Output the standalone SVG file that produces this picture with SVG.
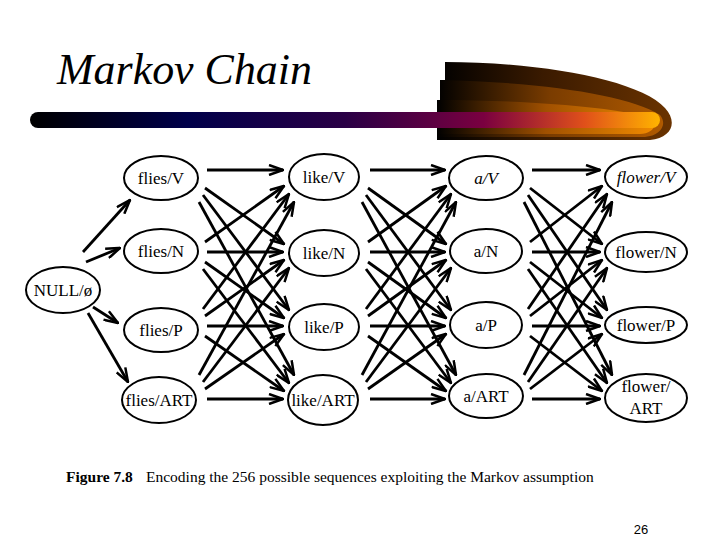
<svg xmlns="http://www.w3.org/2000/svg" width="720" height="540" viewBox="0 0 720 540">
<defs>
<style>
.node ellipse{fill:#fff;stroke:#000;stroke-width:2}
.node text{font-family:"Liberation Serif","Times New Roman",serif;font-size:17px;fill:#000;text-anchor:middle}
.it{font-style:italic}
.serif{font-family:"Liberation Serif","Times New Roman",serif}
.sans{font-family:"Liberation Sans",Arial,sans-serif}
#edges line{stroke:#000;stroke-width:2.8;marker-end:url(#ah)}
</style>
<marker id="ah" viewBox="0 0 16 12" markerWidth="16" markerHeight="12" refX="15" refY="6" orient="auto" markerUnits="userSpaceOnUse">
<path d="M1,1 L15,6 L1,11" fill="none" stroke="#000" stroke-width="2.5"/>
</marker>
<linearGradient id="bar" x1="0" y1="0" x2="1" y2="0">
<stop offset="0" stop-color="#000"/>
<stop offset="0.25" stop-color="#00004a"/>
<stop offset="0.5" stop-color="#2a0045"/>
<stop offset="0.72" stop-color="#7a0040"/>
<stop offset="0.88" stop-color="#e0501a"/>
<stop offset="1" stop-color="#ffb400"/>
</linearGradient>
<linearGradient id="sw1" x1="0" y1="0" x2="1" y2="0">
<stop offset="0" stop-color="#000"/>
<stop offset="0.45" stop-color="#3a1a00"/>
<stop offset="1" stop-color="#6a3300"/>
</linearGradient>
<linearGradient id="sw2" x1="0" y1="0" x2="1" y2="0">
<stop offset="0" stop-color="#000"/>
<stop offset="0.5" stop-color="#7a3c00"/>
<stop offset="1" stop-color="#b05a00"/>
</linearGradient>
<linearGradient id="sw3" x1="0" y1="0" x2="1" y2="0">
<stop offset="0" stop-color="#000"/>
<stop offset="0.5" stop-color="#a05000"/>
<stop offset="1" stop-color="#f08a00"/>
</linearGradient>
</defs>
<rect width="720" height="540" fill="#fff"/>

<g id="title">
<text class="serif it" x="57" y="84" font-size="44" textLength="255" lengthAdjust="spacingAndGlyphs">Markov Chain</text>
<path d="M445,62 C540,62 640,80 665,108 C678,122 672,138 650,140 L437,140 L437,100 L440,100 L440,80 L445,80 Z" fill="url(#sw1)"/>
<path d="M440,80 C540,82 630,95 660,115 C668,125 660,136 645,137 L437,137 L437,100 L440,100 Z" fill="url(#sw2)"/>
<path d="M437,100 C530,100 620,108 650,118 C660,124 652,134 640,134 L437,134 Z" fill="url(#sw3)"/>
<rect x="30" y="112" width="630" height="16" rx="8" fill="url(#bar)"/>
</g>

<g id="edges">
<line x1="83" y1="252" x2="130" y2="200"/>
<line x1="86" y1="262" x2="120" y2="248"/>
<line x1="93" y1="307" x2="118" y2="323"/>
<line x1="88" y1="313" x2="128" y2="382"/>

<line x1="207" y1="170" x2="283" y2="170"/>
<line x1="205" y1="188" x2="284" y2="244"/>
<line x1="203" y1="195" x2="289" y2="310"/>
<line x1="199" y1="202" x2="294" y2="375"/>
<line x1="205" y1="242" x2="284" y2="186"/>
<line x1="207" y1="252" x2="283" y2="252"/>
<line x1="205" y1="262" x2="284" y2="318"/>
<line x1="203" y1="269" x2="289" y2="383"/>
<line x1="203" y1="309" x2="289" y2="194"/>
<line x1="205" y1="316" x2="284" y2="260"/>
<line x1="207" y1="326" x2="283" y2="326"/>
<line x1="205" y1="336" x2="284" y2="391"/>
<line x1="199" y1="375" x2="294" y2="202"/>
<line x1="203" y1="382" x2="289" y2="268"/>
<line x1="205" y1="389" x2="284" y2="334"/>
<line x1="207" y1="399" x2="283" y2="399"/>

<line x1="370" y1="170" x2="445" y2="170"/>
<line x1="368" y1="188" x2="446" y2="244"/>
<line x1="366" y1="195" x2="451" y2="310"/>
<line x1="362" y1="202" x2="456" y2="375"/>
<line x1="368" y1="242" x2="446" y2="186"/>
<line x1="370" y1="252" x2="445" y2="252"/>
<line x1="368" y1="262" x2="446" y2="318"/>
<line x1="366" y1="269" x2="451" y2="383"/>
<line x1="366" y1="309" x2="451" y2="194"/>
<line x1="368" y1="316" x2="446" y2="260"/>
<line x1="370" y1="326" x2="445" y2="326"/>
<line x1="368" y1="336" x2="446" y2="391"/>
<line x1="362" y1="375" x2="456" y2="202"/>
<line x1="366" y1="382" x2="451" y2="268"/>
<line x1="368" y1="389" x2="446" y2="334"/>
<line x1="370" y1="399" x2="445" y2="399"/>

<line x1="532" y1="170" x2="600" y2="170"/>
<line x1="530" y1="188" x2="602" y2="244"/>
<line x1="528" y1="195" x2="607" y2="310"/>
<line x1="524" y1="202" x2="612" y2="375"/>
<line x1="530" y1="242" x2="602" y2="186"/>
<line x1="532" y1="252" x2="600" y2="252"/>
<line x1="530" y1="262" x2="602" y2="318"/>
<line x1="528" y1="269" x2="607" y2="383"/>
<line x1="528" y1="309" x2="607" y2="194"/>
<line x1="530" y1="316" x2="602" y2="260"/>
<line x1="532" y1="326" x2="600" y2="326"/>
<line x1="530" y1="336" x2="602" y2="391"/>
<line x1="524" y1="375" x2="612" y2="202"/>
<line x1="528" y1="382" x2="607" y2="268"/>
<line x1="530" y1="389" x2="602" y2="334"/>
<line x1="532" y1="399" x2="600" y2="399"/>
</g>

<g id="null" class="node"><ellipse cx="63" cy="290" rx="37" ry="23"/><text x="63" y="296">NULL/ø</text></g>

<g id="flies-V" class="node"><ellipse cx="161" cy="178" rx="37" ry="22"/><text x="161" y="184">flies/V</text></g>
<g id="flies-N" class="node"><ellipse cx="161" cy="251" rx="37" ry="22"/><text x="161" y="257">flies/N</text></g>
<g id="flies-P" class="node"><ellipse cx="161" cy="330" rx="37" ry="22"/><text x="161" y="336">flies/P</text></g>
<g id="flies-ART" class="node"><ellipse cx="159" cy="400" rx="37" ry="23"/><text x="159" y="406">flies/ART</text></g>

<g id="like-V" class="node"><ellipse cx="324" cy="177" rx="35" ry="23"/><text x="324" y="183">like/V</text></g>
<g id="like-N" class="node"><ellipse cx="324" cy="253" rx="35" ry="23"/><text x="324" y="259">like/N</text></g>
<g id="like-P" class="node"><ellipse cx="324" cy="327" rx="35" ry="23"/><text x="324" y="333">like/P</text></g>
<g id="like-ART" class="node"><ellipse cx="323" cy="400" rx="35" ry="25"/><text x="323" y="406">like/ART</text></g>

<g id="a-V" class="node"><ellipse cx="486" cy="178" rx="37" ry="22"/><text class="it" x="486" y="184">a/V</text></g>
<g id="a-N" class="node"><ellipse cx="486" cy="251" rx="36" ry="22"/><text x="486" y="257">a/N</text></g>
<g id="a-P" class="node"><ellipse cx="486" cy="325" rx="36" ry="23"/><text x="486" y="331">a/P</text></g>
<g id="a-ART" class="node"><ellipse cx="486" cy="396" rx="37" ry="22"/><text x="486" y="402">a/ART</text></g>

<g id="flower-V" class="node"><ellipse cx="646" cy="177" rx="41" ry="21"/><text class="it" x="646" y="183">flower/V</text></g>
<g id="flower-N" class="node"><ellipse cx="646" cy="252" rx="41" ry="20"/><text x="646" y="258">flower/N</text></g>
<g id="flower-P" class="node"><ellipse cx="646" cy="325" rx="41" ry="18"/><text x="646" y="331">flower/P</text></g>
<g id="flower-ART" class="node"><ellipse cx="646" cy="398" rx="41" ry="24"/><text x="646" y="392">flower/</text><text x="646" y="414">ART</text></g>

<g id="caption">
<text class="serif" x="66" y="482" font-size="15.5"><tspan font-weight="bold">Figure 7.8</tspan><tspan x="146">Encoding the 256 possible sequences exploiting the Markov assumption</tspan></text>
<text class="sans" x="641" y="534" font-size="13" text-anchor="middle">26</text>
</g>
</svg>
